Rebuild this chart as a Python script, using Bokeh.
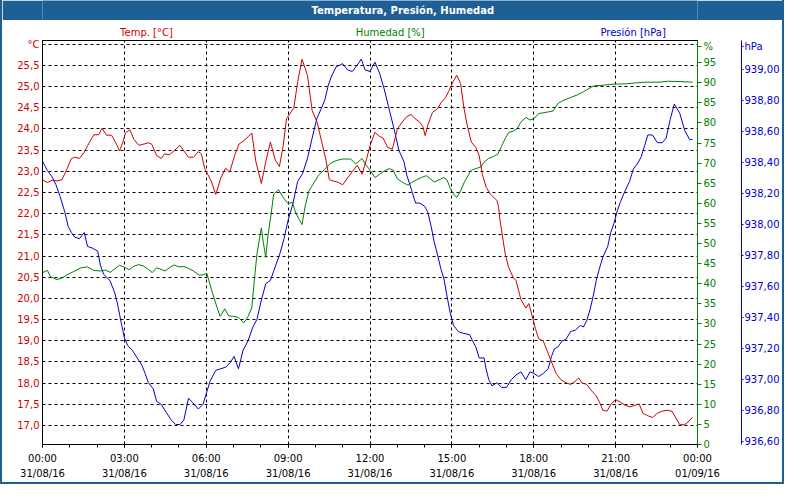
from bokeh.plotting import figure
from bokeh.layouts import column
from bokeh.models import (Range1d, LinearAxis, FixedTicker, CustomJSTickFormatter)
from bokeh.core.properties import value
from bokeh.embed import file_html
from bokeh.resources import INLINE

# ---------------- data ----------------
temp_hours = [0.00, 0.18, 0.35, 0.53, 0.71, 0.88, 1.06, 1.18, 1.35, 1.53, 1.71, 1.88, 2.06, 2.18,
              2.35, 2.53, 2.71, 2.82, 2.94, 3.04, 3.20, 3.35, 3.53, 3.71, 3.88, 4.00, 4.18, 4.35,
              4.47, 4.65, 4.82, 5.04, 5.18, 5.35, 5.53, 5.71, 5.82, 5.94, 6.06, 6.18, 6.35, 6.53,
              6.71, 6.86, 7.04, 7.20, 7.35, 7.53, 7.67, 7.82, 8.02, 8.18, 8.35, 8.53, 8.68, 8.82,
              8.94, 9.06, 9.21, 9.35, 9.51, 9.59, 9.71, 9.88, 10.06, 10.24, 10.39, 10.51, 10.65,
              10.82, 11.00, 11.18, 11.35, 11.53, 11.71, 11.88, 12.00, 12.18, 12.35, 12.47, 12.65,
              12.82, 13.00, 13.18, 13.35, 13.51, 13.65, 13.82, 13.94, 14.02, 14.12, 14.29, 14.47,
              14.61, 14.76, 14.88, 15.04, 15.18, 15.32, 15.44, 15.56, 15.71, 15.88, 16.00, 16.12,
              16.26, 16.41, 16.65, 16.71, 16.76, 16.85, 16.96, 17.08, 17.24, 17.35, 17.44, 17.53,
              17.71, 17.82, 17.94, 18.06, 18.18, 18.35, 18.47, 18.65, 18.82, 19.00, 19.18, 19.35,
              19.51, 19.65, 19.76, 19.94, 20.12, 20.29, 20.41, 20.53, 20.68, 20.85, 21.00, 21.18,
              21.35, 21.53, 21.71, 21.86, 22.00, 22.18, 22.35, 22.53, 22.71, 22.88, 23.06, 23.18,
              23.35, 23.53, 23.65, 23.82]
temp_values = [22.80, 22.73, 22.79, 22.77, 22.80, 23.03, 23.30, 23.33, 23.30, 23.45, 23.67, 23.86,
               23.86, 24.01, 23.85, 23.85, 23.64, 23.48, 23.67, 23.90, 23.98, 23.75, 23.61, 23.64,
               23.67, 23.64, 23.37, 23.30, 23.41, 23.39, 23.48, 23.61, 23.48, 23.33, 23.33, 23.46,
               23.41, 23.07, 22.92, 22.77, 22.45, 22.84, 23.07, 22.98, 23.37, 23.64, 23.71, 23.81,
               23.90, 23.22, 22.71, 23.22, 23.69, 23.26, 23.11, 23.60, 24.24, 24.35, 24.50, 25.11,
               25.64, 25.49, 25.26, 24.43, 24.16, 23.67, 23.26, 22.80, 22.77, 22.74, 22.68, 22.84,
               22.99, 23.14, 22.93, 23.30, 23.60, 23.92, 23.82, 23.79, 23.56, 23.52, 23.99, 24.16,
               24.29, 24.34, 24.24, 24.16, 24.05, 23.84, 24.09, 24.39, 24.47, 24.62, 24.73, 24.88,
               25.11, 25.26, 25.07, 24.50, 24.09, 23.69, 23.56, 23.37, 22.92, 22.62, 22.46, 22.31,
               22.16, 21.86, 21.48, 21.03, 20.73, 20.50, 20.42, 20.20, 19.97, 19.77, 19.88, 19.59,
               19.29, 19.05, 18.99, 18.80, 18.50, 18.23, 18.08, 18.01, 17.97, 18.04, 18.12, 18.01,
               17.97, 17.82, 17.70, 17.55, 17.36, 17.34, 17.52, 17.61, 17.55, 17.48, 17.44, 17.48,
               17.51, 17.29, 17.23, 17.19, 17.29, 17.34, 17.36, 17.34, 17.21, 17.02, 17.02, 17.08,
               17.20]

hum_hours = [0.00, 0.18, 0.29, 0.53, 0.71, 0.94, 1.18, 1.41, 1.65, 1.88, 2.12, 2.29, 2.49, 2.65,
             2.82, 3.00, 3.18, 3.35, 3.53, 3.71, 3.88, 4.02, 4.18, 4.35, 4.49, 4.65, 4.82, 5.00,
             5.18, 5.35, 5.53, 5.74, 5.88, 6.02, 6.18, 6.35, 6.51, 6.68, 6.82, 7.00, 7.18, 7.38,
             7.53, 7.67, 7.76, 7.86, 8.02, 8.09, 8.18, 8.26, 8.38, 8.47, 8.65, 8.80, 9.00, 9.15,
             9.29, 9.41, 9.51, 9.62, 9.76, 9.94, 10.12, 10.33, 10.53, 10.76, 11.00, 11.29, 11.47,
             11.59, 11.71, 11.82, 12.00, 12.18, 12.35, 12.53, 12.71, 12.85, 13.00, 13.18, 13.39,
             13.53, 13.71, 13.88, 14.06, 14.21, 14.35, 14.53, 14.71, 14.82, 14.94, 15.08, 15.18,
             15.29, 15.47, 15.71, 15.88, 16.06, 16.18, 16.35, 16.53, 16.68, 16.82, 16.96, 17.08,
             17.24, 17.39, 17.53, 17.71, 17.86, 18.00, 18.18, 18.41, 18.71, 18.88, 19.06, 19.35,
             19.59, 19.82, 20.12, 20.24, 20.47, 20.94, 21.41, 21.76, 22.12, 22.59, 22.94, 23.29,
             23.82]
hum_values = [42.76, 43.32, 41.73, 41.01, 41.41, 42.36, 43.16, 43.96, 44.19, 43.32, 43.16, 43.40,
              42.84, 43.72, 44.59, 44.12, 43.48, 44.35, 44.75, 44.35, 43.56, 42.76, 43.96, 43.56,
              43.16, 43.96, 44.67, 44.19, 44.27, 43.80, 43.16, 42.13, 42.20, 42.60, 38.78, 35.04,
              31.86, 33.77, 32.01, 31.86, 31.62, 30.26, 31.86, 34.00, 40.77, 47.54, 53.91, 50.32,
              46.50, 51.92, 57.49, 62.27, 63.38, 61.63, 59.88, 60.28, 57.49, 55.90, 54.70, 59.08,
              63.06, 65.05, 67.04, 68.40, 69.83, 70.63, 71.02, 71.02, 69.83, 70.39, 71.18, 69.83,
              68.24, 66.41, 67.20, 68.08, 68.64, 68.24, 66.09, 65.29, 64.50, 65.21, 65.85, 66.41,
              66.88, 66.09, 65.29, 65.85, 66.41, 65.85, 63.70, 62.11, 61.47, 62.66, 65.45, 68.24,
              68.64, 69.03, 70.23, 71.18, 71.66, 72.22, 74.21, 76.20, 77.63, 77.95, 78.59, 80.18,
              81.37, 80.74, 80.98, 82.33, 82.57, 82.97, 84.80, 85.51, 86.31, 86.95, 87.74, 88.94,
              89.25, 89.33, 89.65, 89.73, 89.97, 90.13, 90.13, 90.37, 90.29, 90.13]

pres_hours = [0.00, 0.18, 0.35, 0.49, 0.65, 0.82, 0.94, 1.06, 1.18, 1.35, 1.53, 1.65, 1.82, 2.02,
              2.12, 2.24, 2.47, 2.65, 2.76, 2.88, 3.00, 3.12, 3.29, 3.47, 3.65, 3.76, 3.88, 4.06,
              4.18, 4.35, 4.53, 4.71, 4.88, 5.04, 5.18, 5.35, 5.51, 5.71, 5.88, 6.02, 6.14, 6.35,
              6.53, 6.71, 6.88, 7.02, 7.18, 7.35, 7.53, 7.71, 7.86, 8.00, 8.18, 8.35, 8.47, 8.71,
              8.85, 9.00, 9.18, 9.35, 9.53, 9.71, 9.88, 10.06, 10.24, 10.35, 10.47, 10.59, 10.76,
              11.00, 11.18, 11.35, 11.53, 11.68, 11.82, 12.00, 12.18, 12.35, 12.53, 12.71, 12.88,
              13.06, 13.24, 13.35, 13.53, 13.67, 13.82, 14.00, 14.12, 14.24, 14.35, 14.47, 14.59,
              14.71, 14.82, 14.94, 15.06, 15.24, 15.41, 15.65, 15.76, 15.88, 16.00, 16.18, 16.24,
              16.35, 16.47, 16.65, 16.82, 17.00, 17.18, 17.35, 17.53, 17.71, 17.86, 18.00, 18.18,
              18.35, 18.53, 18.65, 18.76, 18.88, 19.04, 19.18, 19.35, 19.53, 19.71, 19.82, 19.94,
              20.06, 20.18, 20.29, 20.41, 20.53, 20.71, 20.82, 20.94, 21.06, 21.18, 21.35, 21.51,
              21.65, 21.82, 21.94, 22.06, 22.18, 22.35, 22.53, 22.71, 22.85, 23.00, 23.15, 23.35,
              23.53, 23.71, 23.82]
pres_values = [938.41, 938.35, 938.31, 938.26, 938.18, 938.08, 937.99, 937.95, 937.92, 937.91,
               937.95, 937.86, 937.85, 937.83, 937.74, 937.68, 937.64, 937.56, 937.48, 937.37,
               937.27, 937.22, 937.19, 937.14, 937.09, 937.04, 936.98, 936.94, 936.86, 936.84,
               936.79, 936.74, 936.71, 936.71, 936.74, 936.88, 936.85, 936.81, 936.84, 936.92,
               936.99, 937.06, 937.07, 937.08, 937.11, 937.15, 937.07, 937.19, 937.25, 937.34,
               937.39, 937.50, 937.62, 937.64, 937.70, 937.82, 937.91, 938.03, 938.14, 938.28,
               938.33, 938.43, 938.56, 938.69, 938.76, 938.81, 938.90, 938.96, 939.02, 939.04,
               939.00, 938.99, 939.03, 939.07, 939.00, 938.99, 939.05, 938.98, 938.87, 938.74,
               938.62, 938.48, 938.41, 938.32, 938.22, 938.14, 938.14, 938.12, 938.08, 937.99,
               937.89, 937.81, 937.72, 937.65, 937.54, 937.43, 937.35, 937.31, 937.30, 937.29,
               937.25, 937.21, 937.14, 937.14, 937.08, 937.00, 936.96, 936.98, 936.95, 936.95,
               937.00, 937.03, 937.05, 937.00, 937.05, 937.04, 937.02, 937.04, 937.07, 937.15,
               937.20, 937.21, 937.25, 937.26, 937.31, 937.32, 937.35, 937.34, 937.38, 937.45,
               937.54, 937.64, 937.72, 937.79, 937.86, 937.95, 938.01, 938.09, 938.15, 938.22,
               938.28, 938.36, 938.40, 938.44, 938.51, 938.58, 938.58, 938.53, 938.53, 938.56,
               938.68, 938.78, 938.72, 938.61, 938.55, 938.55]

x_ticks = [0, 3, 6, 9, 12, 15, 18, 21, 24]
x_tick_labels = ["00:00\n31/08/16", "03:00\n31/08/16", "06:00\n31/08/16", "09:00\n31/08/16",
                 "12:00\n31/08/16", "15:00\n31/08/16", "18:00\n31/08/16", "21:00\n31/08/16",
                 "00:00\n01/09/16"]
temp_ticks = [17.0, 17.5, 18.0, 18.5, 19.0, 19.5, 20.0, 20.5, 21.0, 21.5, 22.0, 22.5, 23.0,
              23.5, 24.0, 24.5, 25.0, 25.5, 26.0]
hum_ticks = [0, 5, 10, 15, 20, 25, 30, 35, 40, 45, 50, 55, 60, 65, 70, 75, 80, 85, 90, 95]
pres_ticks = [936.6, 936.8, 937.0, 937.2, 937.4, 937.6, 937.8, 938.0, 938.2, 938.4, 938.6,
              938.8, 939.0]

title_text = "Temperatura, Presión, Humedad"
series_names = ["Temp. [°C]", "Humedad [%]", "Presión [hPa]"]
temp_unit, hum_unit, pres_unit = "°C", "%", "hPa"

# ---------------- style / layout ----------------
RED = "#cc0000"
GREEN = "#008000"
BLUE = "#0000cc"
BAR = "#1e5f96"
FONT = "DejaVu Sans"
FS = "10px"
SERIES_COLORS = [RED, GREEN, BLUE]

W = 780            # inner width (2px blue border on each side)
BAR_H = 20         # title bar
NAMES_H = 18       # row with the series names
MAIN_H = 444
X_LO, X_HI = 0, 24
T_LO, T_HI = 16.553, 26.084
H_LO, H_HI = 0, 100.5
P_LO, P_HI = 936.581, 939.19
HUM_UNIT_AT = 99.0        # where the "%" unit sits on the humidity axis
PRES_UNIT_AT = 939.15     # where the "hPa" unit sits on the pressure axis
TITLE_X = 13.2            # title centre, in hours along the (aligned) frame
NAME_XS = [3.81, 12.74, 21.64]   # series-name centres, in hours

# ---- title bar (frame is aligned with the chart frame by the column layout) ----
bar = figure(width=W, height=BAR_H, output_backend="svg", toolbar_location=None, title=None,
             x_range=Range1d(X_LO, X_HI), y_range=Range1d(0, 1),
             x_axis_location=None, y_axis_location=None, min_border=0)
bar.background_fill_color = BAR
bar.border_fill_color = BAR
bar.outline_line_color = None
bar.grid.visible = False
bar.text(x=[TITLE_X], y=[0.5], text=[title_text], text_color="white",
         text_font=value(FONT), text_font_size="10px", text_font_style="bold",
         text_align="center", text_baseline="middle")

# ---- series names row ----
names = figure(width=W, height=NAMES_H, output_backend="svg", toolbar_location=None, title=None,
               x_range=Range1d(X_LO, X_HI), y_range=Range1d(NAMES_H, 0),
               x_axis_location=None, y_axis_location=None, min_border=0)
names.background_fill_color = "white"
names.border_fill_color = "white"
names.outline_line_color = None
names.grid.visible = False
names.text(x=NAME_XS, y=[11.5] * 3, text=series_names, text_color=SERIES_COLORS,
           text_font=value(FONT), text_font_size=FS,
           text_align="center", text_baseline="middle")

# ---- main chart ----
p = figure(width=W, height=MAIN_H, output_backend="svg", toolbar_location=None, title=None,
           x_range=Range1d(X_LO, X_HI), y_range=Range1d(T_LO, T_HI),
           min_border_left=40, min_border_top=2, min_border_bottom=36, min_border_right=5)
p.background_fill_color = "white"
p.border_fill_color = "white"
p.outline_line_color = "black"
p.outline_line_width = 1

p.extra_y_ranges = {"hum": Range1d(H_LO, H_HI), "pres": Range1d(P_LO, P_HI)}

# grids
p.xgrid.ticker = FixedTicker(ticks=x_ticks[1:-1])
p.ygrid.ticker = FixedTicker(ticks=temp_ticks)
for g in (p.xgrid, p.ygrid):
    g.grid_line_color = "black"
    g.grid_line_dash = "3 3"
    g.grid_line_width = 1

# series
p.line(pres_hours, pres_values, color=BLUE, line_width=1, y_range_name="pres")
p.line(hum_hours, hum_values, color=GREEN, line_width=1, y_range_name="hum")
p.line(temp_hours, temp_values, color=RED, line_width=1)

# bottom axis
xa = p.xaxis[0]
xa.ticker = FixedTicker(ticks=x_ticks, minor_ticks=list(range(25)))
xa.formatter = CustomJSTickFormatter(args=dict(labels=x_tick_labels),
                                     code="return labels[Math.round(tick / 3)];")
xa.axis_line_color = "black"
xa.major_tick_line_color = "black"
xa.minor_tick_line_color = "black"
xa.major_tick_out = 3
xa.major_tick_in = 0
xa.minor_tick_out = 3
xa.minor_tick_in = 0
xa.major_label_standoff = 5
xa.major_label_text_font = FONT
xa.major_label_text_font_size = FS
xa.major_label_text_color = "black"
xa.major_label_text_line_height = 1.45

# left axis (temperature), unit shown at the top tick
ya = p.yaxis[0]
ya.ticker = FixedTicker(ticks=temp_ticks)
ya.formatter = CustomJSTickFormatter(
    args=dict(unit=temp_unit, top=temp_ticks[-1]),
    code="return Math.abs(tick - top) < 1e-6 ? unit : tick.toFixed(1).replace('.', ',');")
ya.axis_line_color = "black"
ya.major_tick_out = 0
ya.major_tick_in = 0
ya.minor_tick_out = 0
ya.minor_tick_in = 0
ya.major_label_standoff = 3
ya.major_label_text_font = FONT
ya.major_label_text_font_size = FS
ya.major_label_text_color = RED

# right axis (humidity)
ga = LinearAxis(y_range_name="hum", ticker=FixedTicker(ticks=hum_ticks + [HUM_UNIT_AT]),
                formatter=CustomJSTickFormatter(
                    args=dict(unit=hum_unit, at=HUM_UNIT_AT),
                    code="return Math.abs(tick - at) < 1e-6 ? unit : tick.toFixed(0);"))
ga.axis_line_color = GREEN
ga.major_tick_line_color = GREEN
ga.major_tick_out = 4
ga.major_tick_in = 0
ga.minor_tick_out = 0
ga.minor_tick_in = 0
ga.major_label_standoff = 2
ga.major_label_text_font = FONT
ga.major_label_text_font_size = FS
ga.major_label_text_color = GREEN
ga.axis_label = " "
ga.axis_label_standoff = 5
ga.axis_label_text_font_size = "12px"
p.add_layout(ga, "right")

# right axis (pressure)
ba = LinearAxis(y_range_name="pres", ticker=FixedTicker(ticks=pres_ticks + [PRES_UNIT_AT]),
                formatter=CustomJSTickFormatter(
                    args=dict(unit=pres_unit, at=PRES_UNIT_AT),
                    code="return Math.abs(tick - at) < 1e-6 ? unit : tick.toFixed(2).replace('.', ',');"))
ba.axis_line_color = BLUE
ba.major_tick_line_color = BLUE
ba.major_tick_out = 2
ba.major_tick_in = 0
ba.minor_tick_out = 0
ba.minor_tick_in = 0
ba.major_label_standoff = 1
ba.major_label_text_font = FONT
ba.major_label_text_font_size = FS
ba.major_label_text_color = BLUE
p.add_layout(ba, "right")

border = "2px solid " + BAR
layout = column(bar, names, p, spacing=0,
                styles={"border-left": border, "border-right": border, "border-bottom": border})
open("out.html", "w").write(file_html(layout, INLINE))
